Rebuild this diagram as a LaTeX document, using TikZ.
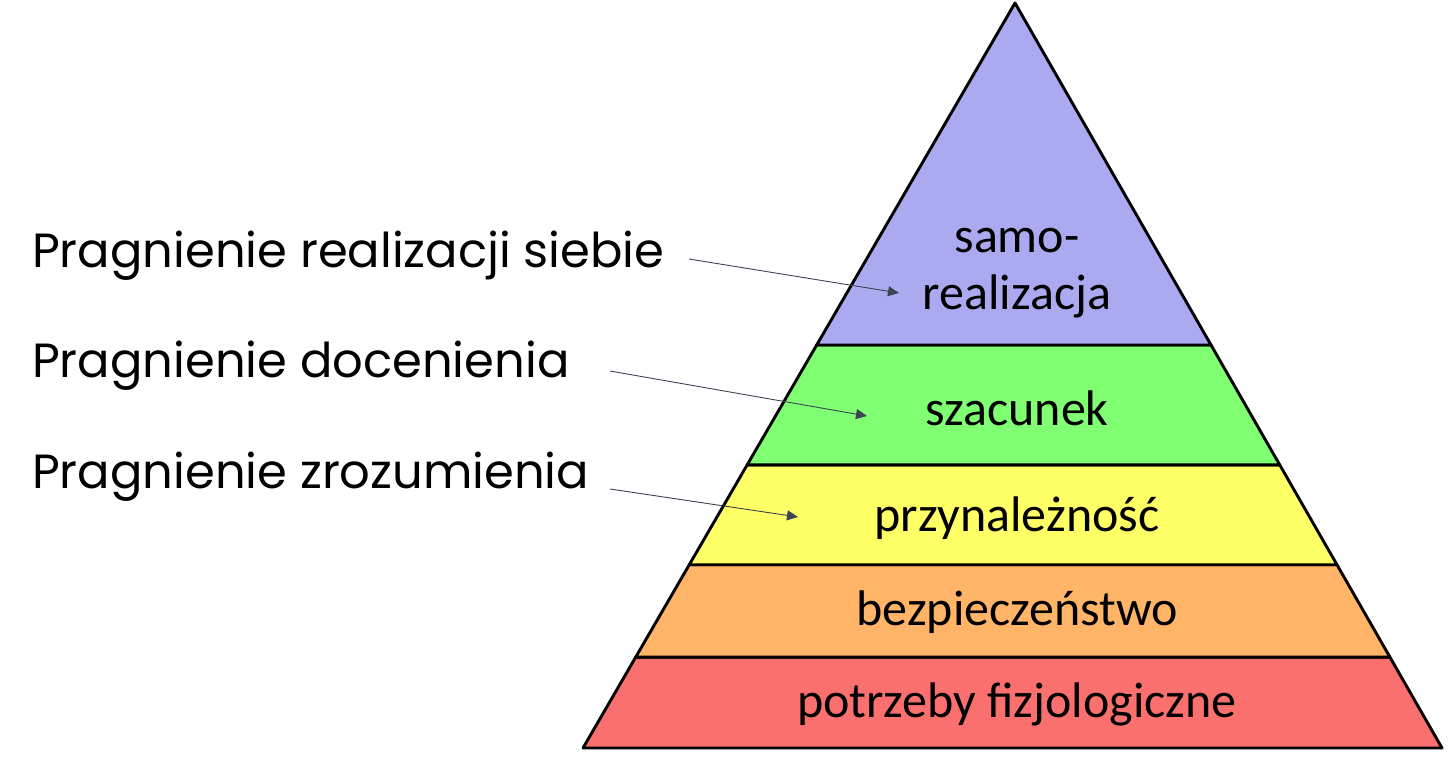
\documentclass[tikz,border=0pt]{standalone}
\usepackage{fontspec}
\setmainfont{Carlito}
\newfontfamily\gothicfont{Poppins}
\usetikzlibrary{calc,arrows.meta}

\definecolor{samoclr}{RGB}{171,170,240}
\definecolor{szacclr}{RGB}{128,255,114}
\definecolor{przyclr}{RGB}{255,255,102}
\definecolor{bezpclr}{RGB}{255,180,104}
\definecolor{fizjclr}{RGB}{250,112,110}
\definecolor{strzclr}{RGB}{60,68,84}

\tikzset{
  band/.style={draw=black, line width=2.9pt, line join=round},
  level/.style={font=\fontsize{50}{57}\selectfont, align=center, inner sep=0pt},
  want/.style={font=\gothicfont\fontsize{48}{54}\selectfont, anchor=west, inner sep=0pt},
  pointer/.style={draw=strzclr, line width=0.9pt, -{Triangle[length=11pt,width=10pt]}}
}

\begin{document}
\begin{tikzpicture}[x=1pt,y=-1pt]
    \useasboundingbox (0,0) rectangle (1453,762);

    % Wierzcholek i podstawa
    \coordinate (apex) at (1015,3);
    \coordinate (bl) at (583,748);
    \coordinate (br) at (1442,748);

    % Pasy piramidy
    \filldraw[band, fill=fizjclr] ($(apex)!0.878!(bl)$) -- (bl) -- (br) -- ($(apex)!0.878!(br)$) -- cycle;
    \filldraw[band, fill=bezpclr] ($(apex)!0.754!(bl)$) -- ($(apex)!0.878!(bl)$) -- ($(apex)!0.878!(br)$) -- ($(apex)!0.754!(br)$) -- cycle;
    \filldraw[band, fill=przyclr] ($(apex)!0.620!(bl)$) -- ($(apex)!0.754!(bl)$) -- ($(apex)!0.754!(br)$) -- ($(apex)!0.620!(br)$) -- cycle;
    \filldraw[band, fill=szacclr] ($(apex)!0.459!(bl)$) -- ($(apex)!0.620!(bl)$) -- ($(apex)!0.620!(br)$) -- ($(apex)!0.459!(br)$) -- cycle;
    \filldraw[band, fill=samoclr] (apex) -- ($(apex)!0.459!(bl)$) -- ($(apex)!0.459!(br)$) -- cycle;

    % Napisy w piramidzie
    \node[level] (samo) at (1017,273) {samo-\\realizacja};
    \node[level] (szac) at (1017,408) {szacunek};
    \node[level] (przy) at (1017,518) {przynależność};
    \node[level] (bezp) at (1017,612) {bezpieczeństwo};
    \node[level] (fizj) at (1017,704) {potrzeby fizjologiczne};

    % Pragnienia po lewej
    \node[want] (realiz) at (32,256) {Pragnienie realizacji siebie};
    \node[want] (docen) at (32,366) {Pragnienie docenienia};
    \node[want] (zrozum) at (32,477) {Pragnienie zrozumienia};

    % Strzalki
    \coordinate (realizA) at (689,259);
    \coordinate (realizB) at (899,293);
    \coordinate (docenA) at (610,371);
    \coordinate (docenB) at (867,416);
    \coordinate (zrozumA) at (610,489);
    \coordinate (zrozumB) at (798,517);
    \draw[pointer] (realizA) -- (realizB);
    \draw[pointer] (docenA) -- (docenB);
    \draw[pointer] (zrozumA) -- (zrozumB);
\end{tikzpicture}
\end{document}
